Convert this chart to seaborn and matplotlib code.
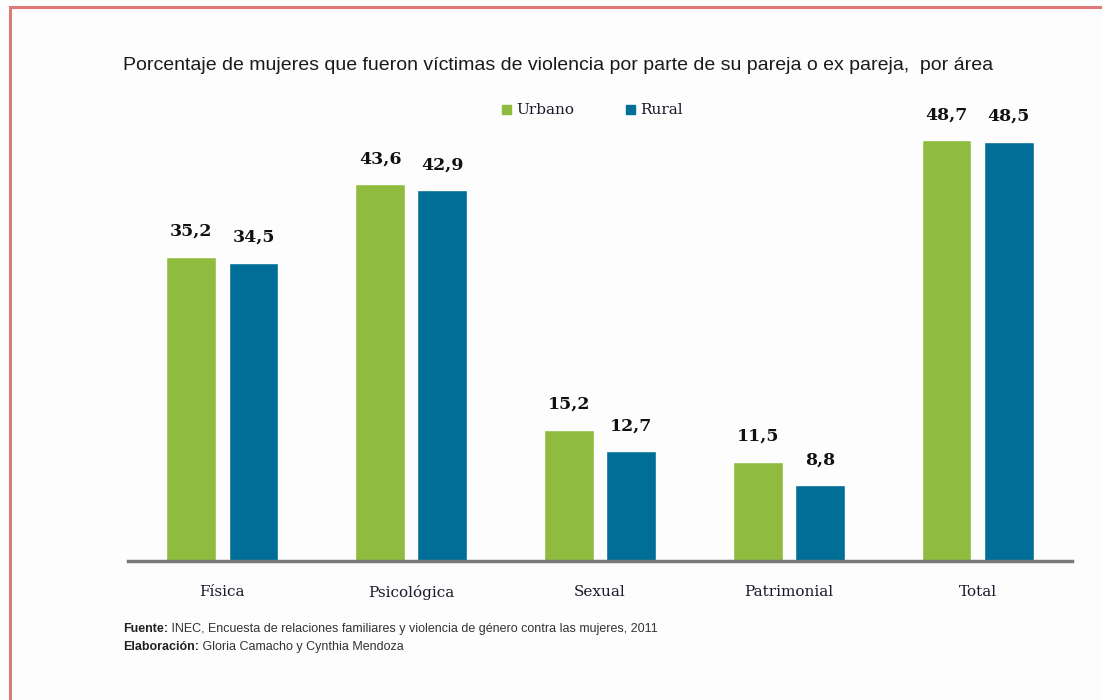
import numpy as np
import pandas as pd
import seaborn as sns
import matplotlib.pyplot as plt
from matplotlib.patches import Rectangle

categorias = ['Física', 'Psicológica', 'Sexual', 'Patrimonial', 'Total']
urbano = [35.2, 43.6, 15.2, 11.5, 48.7]
rural = [34.5, 42.9, 12.7, 8.8, 48.5]
areas = ['Urbano', 'Rural']
colores = ['#8fbc3f', '#006e96']

df = pd.DataFrame({
    'Tipo': categorias * 2,
    'Area': ['Urbano'] * len(categorias) + ['Rural'] * len(categorias),
    'Porcentaje': urbano + rural,
})

sns.set_style("white")
serif = ['DejaVu Serif']
sans = ['Liberation Sans', 'DejaVu Sans']

fig = plt.figure(figsize=(11.02, 7), dpi=100)
fig.patch.set_facecolor('#fdfdfd')
# marco rojo
fig.add_artist(Rectangle((10 / 1102, -0.05), 1.2, (700 - 7) / 700 + 0.05,
                         transform=fig.transFigure, fill=False,
                         edgecolor='#dd7a78', linewidth=2.2))

ax = fig.add_axes([128 / 1102, 1 - 561 / 700, 944 / 1102, 475.5 / 700])
ax.set_facecolor('none')
sns.barplot(data=df, x='Tipo', y='Porcentaje', hue='Area', hue_order=areas,
            palette=colores, width=0.66, gap=0.2, saturation=1, ax=ax,
            legend=False)

ax.set_ylim(0, 55)
ax.set_xlim(-0.5, 4.5)
ax.set_xlabel('')
ax.set_ylabel('')
ax.set_yticks([])
for s in ['top', 'left', 'right']:
    ax.spines[s].set_visible(False)
ax.spines['bottom'].set_color('#7a7a7a')
ax.spines['bottom'].set_linewidth(2.5)
ax.tick_params(axis='x', length=0, pad=17)
for t in ax.get_xticklabels():
    t.set_fontfamily(serif)
    t.set_fontsize(11)
    t.set_color('#1a1a2a')

for cont in ax.containers:
    labels = [f'{v:.1f}'.replace('.', ',') for v in cont.datavalues]
    ax.bar_label(cont, labels=labels, padding=12, fontsize=12.5,
                 fontweight='bold', family=serif, color='#111111')

fig.text(123 / 1102, 1 - 65 / 700,
         'Porcentaje de mujeres que fueron víctimas de violencia por parte de su pareja o ex pareja,  por área',
         family=sans, fontsize=14, color='#1a1a1a', va='center', ha='left')

# leyenda
for x0, nombre, col in [(502, 'Urbano', colores[0]), (626, 'Rural', colores[1])]:
    fig.add_artist(Rectangle((x0 / 1102, 1 - 114 / 700), 9 / 1102, 9 / 700,
                             transform=fig.transFigure, color=col))
    fig.text((x0 + 14) / 1102, 1 - 110 / 700, nombre, family=serif,
             fontsize=11, color='#1a1a2a', va='center', ha='left')

# fuente / elaboracion
renderer = fig.canvas.get_renderer()
notas = [('Fuente:', ' INEC, Encuesta de relaciones familiares y violencia de género contra las mujeres, 2011', 629),
         ('Elaboración:', ' Gloria Camacho y Cynthia Mendoza', 647)]
for negrita, resto, y in notas:
    t = fig.text(123 / 1102, 1 - y / 700, negrita, family=sans, fontweight='bold',
                 fontsize=9, va='center', ha='left', color='#222222')
    bb = t.get_window_extent(renderer)
    fig.text(bb.x1 / 1102, 1 - y / 700, resto, family=sans, fontsize=9,
             va='center', ha='left', color='#333333')

plt.savefig('out.png', dpi=100)
